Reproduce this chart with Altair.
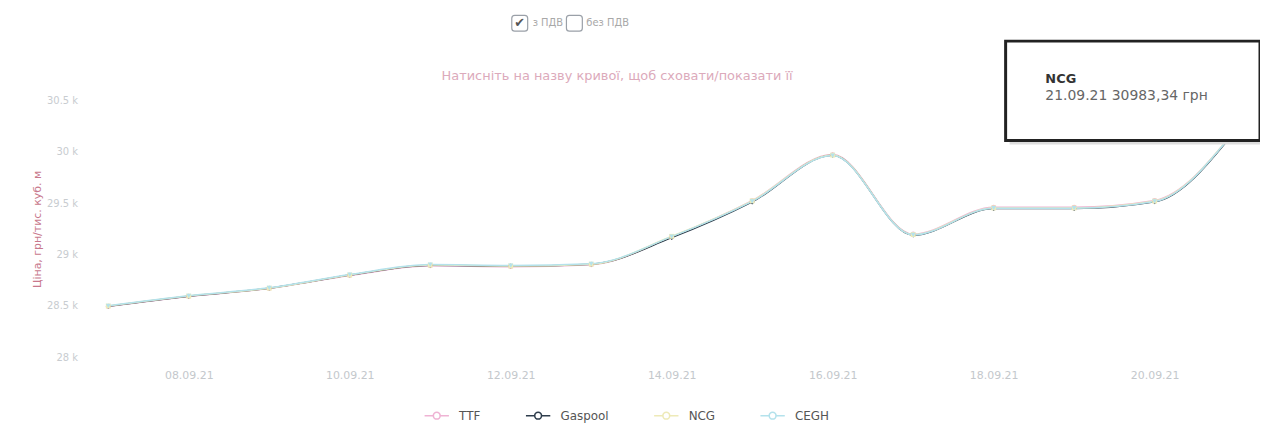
import altair as alt
import pandas as pd

dates = ["07.09.21", "08.09.21", "09.09.21", "10.09.21", "11.09.21", "12.09.21", "13.09.21",
         "14.09.21", "15.09.21", "16.09.21", "17.09.21", "18.09.21", "19.09.21", "20.09.21", "21.09.21"]
ttf = [28494, 28591, 28669, 28795, 28891, 28882, 28901, 29172, 29525, 29975, 29200, 29462, 29462, 29528, 30209]
gaspool = [28496, 28594, 28672, 28800, 28896, 28888, 28906, 29165, 29513, 29968, 29190, 29448, 29448, 29514, 30205]
ncg = [28498, 28595, 28672, 28800, 28897, 28888, 28906, 29178, 29524, 29970, 29195, 29455, 29455, 29522, 30215]
cegh = [28500, 28598, 28676, 28805, 28902, 28893, 28910, 29175, 29518, 29965, 29192, 29452, 29452, 29518, 30212]
series_names = ["TTF", "Gaspool", "NCG", "CEGH"]
series_colors = ["#efb3d4", "#2e3d4c", "#eeeab8", "#b4e2ec"]
series_shapes = ["circle", "diamond", "square", "triangle-down"]
y_ticks = [28000, 28500, 29000, 29500, 30000, 30500]
x_ticks = [8, 10, 12, 14, 16, 18, 20]

rows = []
for name, vals in zip(series_names, [ttf, gaspool, ncg, cegh]):
    for d, v in zip(dates, vals):
        rows.append({"series": name, "date": d, "day": int(d[:2]), "price": v})
df = pd.DataFrame(rows)

FONT = "DejaVu Sans"
W, H = 1160, 258

x_enc = alt.X("day:Q", scale=alt.Scale(domain=[6.89, 21.21], nice=False, zero=False),
              axis=alt.Axis(values=x_ticks, grid=False, domain=False, ticks=False,
                            labelExpr="(datum.value < 10 ? '0' : '') + datum.value + '.09.21'",
                            labelColor="#c4c8cc", labelFontSize=11, labelFont=FONT,
                            labelPadding=13, title=None))
y_enc = alt.Y("price:Q", scale=alt.Scale(domain=[28000, 30500], nice=False, zero=False),
              axis=alt.Axis(values=y_ticks, grid=False, domain=False, ticks=False,
                            labelExpr="format(datum.value / 1000, '.1~f') + ' k'",
                            labelColor="#c8ccd0", labelFontSize=10, labelFont=FONT,
                            labelPadding=22, title="Ціна, грн/тис. куб. м",
                            titleColor="#c8788c", titleFontSize=11, titleFontWeight="normal",
                            titleFont=FONT, titleX=-57, titleY=H / 2))
legend_symbol = "M-1,0L-0.28,0M0.28,0L1,0M-0.28,0a0.28,0.28 0 1,0 0.56,0a0.28,0.28 0 1,0 -0.56,0"
color_enc = alt.Color("series:N", scale=alt.Scale(domain=series_names, range=series_colors),
                      legend=alt.Legend(orient="none", legendX=326, legendY=303, direction="horizontal",
                                        title=None, labelFontSize=12, labelFontWeight="normal",
                                        labelColor="#555555", labelFont=FONT, symbolSize=600,
                                        symbolType=legend_symbol, labelOffset=9,
                                        columnPadding=42, symbolStrokeWidth=1.6))

lines = alt.Chart(df).mark_line(interpolate="monotone", strokeWidth=1.5).encode(
    x=x_enc, y=y_enc, color=color_enc, detail="series:N")

point_layers = []
for name, col, shp in zip(series_names, series_colors, series_shapes):
    point_layers.append(
        alt.Chart(df).transform_filter(alt.datum.series == name)
        .mark_point(filled=True, size=24, opacity=1, shape=shp, color=col)
        .encode(x=alt.X("day:Q"), y=alt.Y("price:Q"))
    )

ann = pd.DataFrame({"k": [0]})
base = alt.Chart(ann)

def txt(t, x, y, size=11, color="#999999", weight="normal", align="center"):
    return base.mark_text(text=t, fontSize=size, color=color, fontWeight=weight, font=FONT,
                          align=align, baseline="middle").encode(x=alt.value(x), y=alt.value(y))

def box(x1, x2, y1, y2, stroke="#aaaaaa", fill="white", sw=1.0, r=0):
    return base.mark_rect(fill=fill, stroke=stroke, strokeWidth=sw, cornerRadius=r).encode(
        x=alt.value(x1), x2=alt.value(x2), y=alt.value(y1), y2=alt.value(y2))

header = [
    box(415, 431, -86, -70, stroke="#9aa0a8", sw=1.2, r=3),
    txt("✔", 423, -78, size=13, color="#555555"),
    txt("з ПДВ", 436, -78, size=10, color="#a8a8a8", align="left"),
    box(470, 486, -86, -70, stroke="#9aa0a8", sw=1.2, r=3),
    txt("без ПДВ", 490, -78, size=10, color="#a8a8a8", align="left"),
    txt("Натисніть на назву кривої, щоб сховати/показати її", 521, -25, size=13, color="#dcaabb"),
]

tooltip = [
    box(916, 1172, -56, 44, stroke="#dddddd", fill="#dddddd", sw=0),
    box(912, 1168, -60, 40, stroke="#222222", sw=3, fill="white"),
    txt("NCG", 952, -22, size=13, color="#333333", weight="bold", align="left"),
    txt("21.09.21  30983,34 грн", 952, -5, size=14, color="#666666", align="left"),
]

chart = alt.layer(lines, *point_layers, *header, *tooltip).properties(
    width=W, height=H,
    autosize=alt.AutoSizeParams(type="none"),
    padding={"left": 92, "top": 92, "right": 8, "bottom": 70},
).configure_view(stroke=None)

chart.save("out.html", embed_options={"renderer": "svg", "actions": False})
